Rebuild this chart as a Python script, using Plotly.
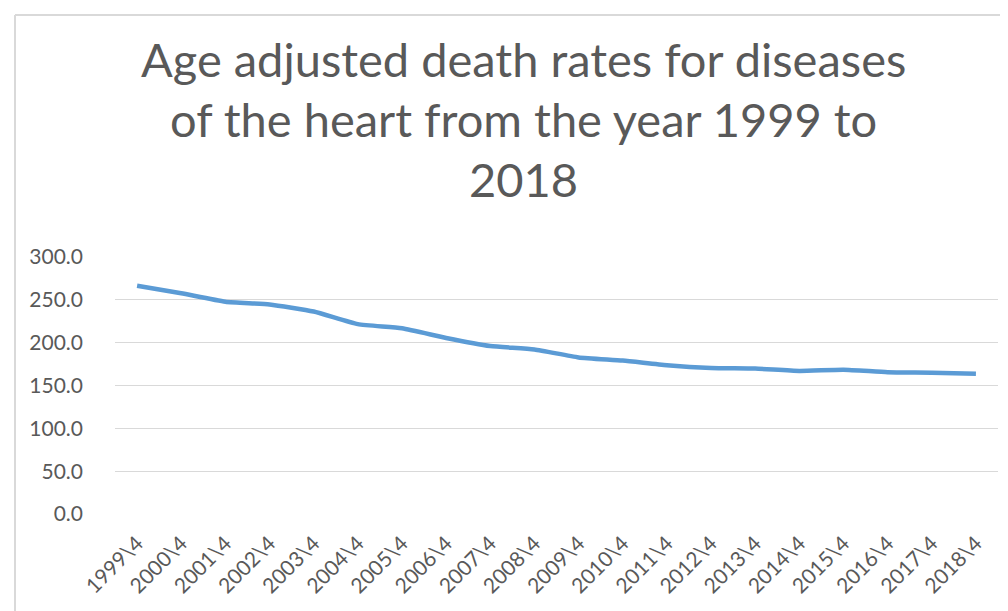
import plotly.graph_objects as go

years = ["1999\\4", "2000\\4", "2001\\4", "2002\\4", "2003\\4", "2004\\4", "2005\\4",
         "2006\\4", "2007\\4", "2008\\4", "2009\\4", "2010\\4", "2011\\4", "2012\\4",
         "2013\\4", "2014\\4", "2015\\4", "2016\\4", "2017\\4", "2018\\4"]
rates = [266.5, 257.6, 247.8, 244.6, 236.3, 221.6, 216.8, 205.5, 196.1, 192.1,
         182.8, 179.1, 173.7, 170.5, 169.8, 167.0, 168.5, 165.5, 165.0, 163.6]
y_ticks = [0, 50, 100, 150, 200, 250, 300]
title_lines = ["Age adjusted death rates for diseases",
               "of the heart from the year 1999 to",
               "2018"]

W, H = 1008, 611
L, R, T, B = 107, 18, 249, 105
pw, ph = W - L - R, H - T - B

def px_x(x):
    return (x - L) / pw

def px_y(y):
    return (H - B - y) / ph

FONT = "Lato"
GREY = "#595959"

fig = go.Figure()
fig.add_trace(go.Scatter(
    x=years, y=rates, mode="lines",
    line=dict(color="#5B9BD5", width=4.5, shape="spline", smoothing=0.5),
    hoverinfo="x+y", showlegend=False,
))

annotations = []
for txt, yc in zip(title_lines, [51, 111, 171]):
    annotations.append(dict(
        text=txt, x=px_x(515), y=px_y(yc), xref="paper", yref="paper",
        xanchor="center", yanchor="middle", showarrow=False,
        font=dict(family=FONT, size=47, color=GREY),
    ))

shapes = [
    dict(type="line", xref="paper", yref="paper",
         x0=px_x(7), x1=px_x(1010), y0=px_y(7), y1=px_y(7),
         line=dict(color="#D9D9D9", width=2)),
    dict(type="line", xref="paper", yref="paper",
         x0=px_x(7), x1=px_x(7), y0=px_y(7), y1=px_y(615),
         line=dict(color="#D9D9D9", width=2)),
]

fig.update_layout(
    width=W, height=H,
    margin=dict(l=L, r=R, t=T, b=B, pad=0),
    paper_bgcolor="white", plot_bgcolor="white",
    annotations=annotations, shapes=shapes,
    font=dict(family=FONT, color=GREY),
    xaxis=dict(
        type="category", range=[-0.5, len(years) - 0.5], tickangle=-45,
        showgrid=False, zeroline=False,
        showline=False, ticks="", tickfont=dict(family=FONT, size=21, color=GREY),
        ticklabelstandoff=12,
    ),
    yaxis=dict(
        range=[0, 300], tickvals=y_ticks, tickformat=".1f",
        showgrid=True, gridcolor="#D9D9D9", gridwidth=1, zeroline=False,
        showline=False, ticks="", tickfont=dict(family=FONT, size=21, color=GREY),
        ticklabelstandoff=31,
    ),
)

fig.write_html("out.html")
